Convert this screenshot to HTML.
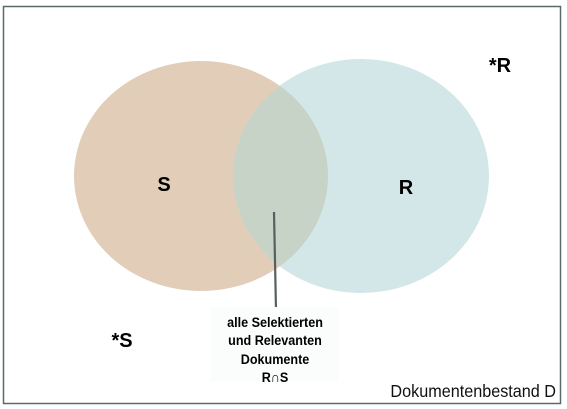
<!DOCTYPE html>
<html><head><meta charset="utf-8"><style>
html,body{margin:0;padding:0;background:#fff;}
svg{display:block;font-family:"Liberation Sans",Arial,sans-serif;}
</style></head><body>
<svg width="567" height="409" viewBox="0 0 567 409" xmlns="http://www.w3.org/2000/svg">
<defs><clipPath id="cs"><ellipse cx="201" cy="176" rx="127" ry="115"/></clipPath></defs>
<rect x="3.5" y="6.5" width="557" height="397" fill="#fff" stroke="#5a6a6a" stroke-width="1.5"/>
<ellipse cx="201" cy="176" rx="127" ry="115" fill="#e2cdb9"/>
<ellipse cx="361" cy="176" rx="128" ry="117" fill="#d3e7e8"/>
<ellipse cx="361" cy="176" rx="128" ry="117" fill="#c8d3c8" clip-path="url(#cs)"/>
<line x1="274" y1="212" x2="276" y2="310" stroke="#55605f" stroke-width="2.2"/>
<rect x="210" y="307" width="128" height="75" fill="#fbfcfc"/>
<g font-weight="bold" font-size="20" text-anchor="middle">
<text x="164" y="191">S</text>
<text x="406" y="194">R</text>
<text x="500" y="72">*R</text>
<text x="122" y="347">*S</text>
</g>
<g font-weight="bold" font-size="14" text-anchor="middle" transform="translate(275,0) scale(0.9,1)">
<text x="0" y="327">alle Selektierten</text>
<text x="0" y="345">und Relevanten</text>
<text x="0" y="364">Dokumente</text>
<text x="0" y="382">R∩S</text>
</g>
<text x="0" y="397" font-size="18" text-anchor="end" transform="translate(556,0) scale(0.9,1)" fill="#111">Dokumentenbestand D</text>
</svg>
</body></html>
